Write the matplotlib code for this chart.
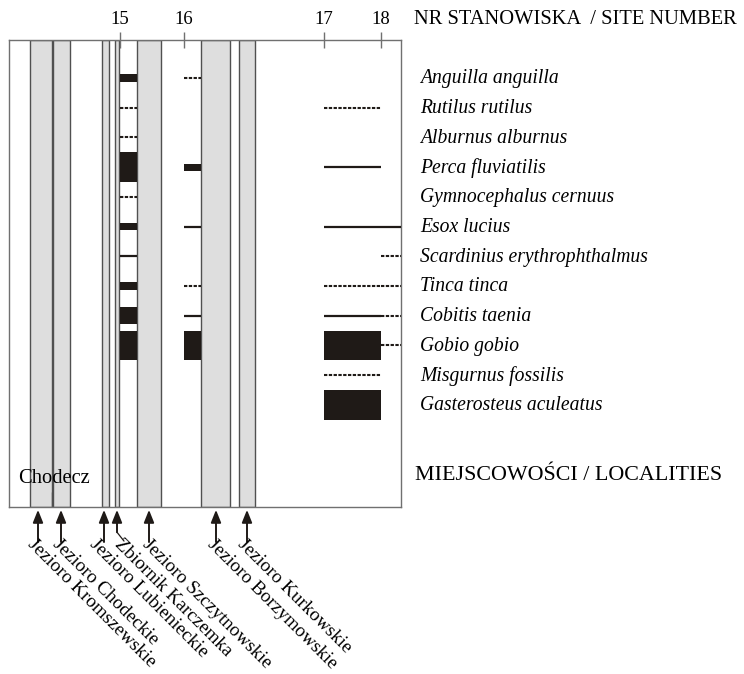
import numpy as np
import matplotlib.pyplot as plt

plt.rcParams['font.family'] = ['Liberation Serif', 'DejaVu Serif']

species = ['Anguilla anguilla', 'Rutilus rutilus', 'Alburnus alburnus',
           'Perca fluviatilis', 'Gymnocephalus cernuus', 'Esox lucius',
           'Scardinius erythrophthalmus', 'Tinca tinca', 'Cobitis taenia',
           'Gobio gobio', 'Misgurnus fossilis', 'Gasterosteus aculeatus']

# distance along the river, arbitrary units (0 = upper end of the frame)
river_end = 392
sites = ['15', '16', '17', '18']
site_start = [111, 175, 315, 372]
site_end = [128, 192, 372, 392]

# abundance class per species: 0 absent, 1 single, 2 rare, 3 few, 4 common, 5 abundant
abundance = {
    '15': [3, 1, 1, 5, 1, 3, 2, 3, 4, 5, 0, 0],
    '16': [1, 0, 0, 3, 0, 2, 0, 1, 2, 5, 0, 0],
    '17': [0, 1, 0, 2, 0, 2, 0, 1, 2, 5, 1, 5],
    '18': [0, 0, 0, 0, 0, 2, 1, 1, 1, 1, 0, 0],
}

lakes = ['Jezioro Kromszewskie', 'Jezioro Chodeckie', 'Jezioro Lubienieckie',
         'Zbiornik Karczemka', 'Jezioro Szczytnowskie', 'Jezioro Borzymowskie',
         'Jezioro Kurkowskie']
lake_start = [21, 44, 93, 106, 128, 192, 230]
lake_end = [43, 61, 100, 110, 152, 221, 246]
lake_arrow = [29, 52, 95, 108, 140, 207, 238]
lake_label = [27, 52, 89, 114, 142, 207, 237]
chodecz_x = 43

ink = '#1f1a17'
bar_height = {3: 0.24, 4: 0.57, 5: 1.0}

fig = plt.figure(figsize=(7.44, 6.74), dpi=100)
ax = fig.add_axes([9 / 744, 167 / 674, 392 / 744, 467 / 674])
ax.set_xlim(0, river_end)
ax.set_ylim(len(species) + 2.44, -1.28)

for s, e in zip(lake_start, lake_end):
    ax.axvspan(s, e, facecolor='#dedede', edgecolor='#505050', lw=1.0, zorder=1)

rows = np.arange(len(species))
for site, s, e in zip(sites, site_start, site_end):
    for y, lev in zip(rows, abundance[site]):
        if lev == 1:
            ax.hlines(y, s, e, colors=ink, lw=1.5, linestyles=(0, (1.6, 0.7)), zorder=3)
        elif lev == 2:
            ax.hlines(y, s, e, colors=ink, lw=1.6, zorder=3, capstyle='butt')
        elif lev >= 3:
            ax.barh(y, e - s, left=s, height=bar_height[lev], color=ink, lw=0, zorder=3)

for name, y in zip(species, rows):
    ax.text(411, y + 0.03, name, style='italic', fontsize=14.1, va='center',
            clip_on=False)

ax.xaxis.tick_top()
ax.set_xticks(site_start, sites)
ax.tick_params(axis='x', direction='inout', length=11, width=1, color='#707070',
               labelsize=13.5, pad=3)
ax.set_yticks([])
for sp in ax.spines.values():
    sp.set_color('#707070')
    sp.set_linewidth(1.0)

ax.vlines(chodecz_x, len(species) + 1.94, len(species) + 2.44, colors='#505050', lw=1.0)
ax.text(9, len(species) + 1.47, 'Chodecz', fontsize=14.8, va='center')

# arrows and lake names below the frame
tr = ax.get_xaxis_transform()
for name, xa, xl in zip(lakes, lake_arrow, lake_label):
    tail = -0.075
    if name.startswith('Zbiornik'):
        tail = -0.054
        ax.annotate('', xy=(xl + 1, -0.073), xytext=(xa, tail), xycoords=tr,
                    arrowprops=dict(arrowstyle='-', color=ink, lw=0.9,
                                    shrinkA=0, shrinkB=0))
    ax.annotate('', xy=(xa, -0.006), xytext=(xa, tail), xycoords=tr,
                arrowprops=dict(arrowstyle='-|>,head_length=0.75,head_width=0.3',
                                mutation_scale=10, color=ink, lw=1.4,
                                shrinkA=0, shrinkB=0))
    ax.text(xl, -0.062, name, transform=tr, rotation=-45, rotation_mode='anchor',
            ha='left', va='top', fontsize=13.8, clip_on=False)

fig.text(414 / 744, 1 - 19 / 674, 'NR STANOWISKA  / SITE NUMBER', fontsize=14.8,
         va='center')
fig.text(415 / 744, 1 - 475 / 674, 'MIEJSCOWOŚCI / LOCALITIES', fontsize=15.8,
         va='center')

fig.savefig('out.png', dpi=100)
